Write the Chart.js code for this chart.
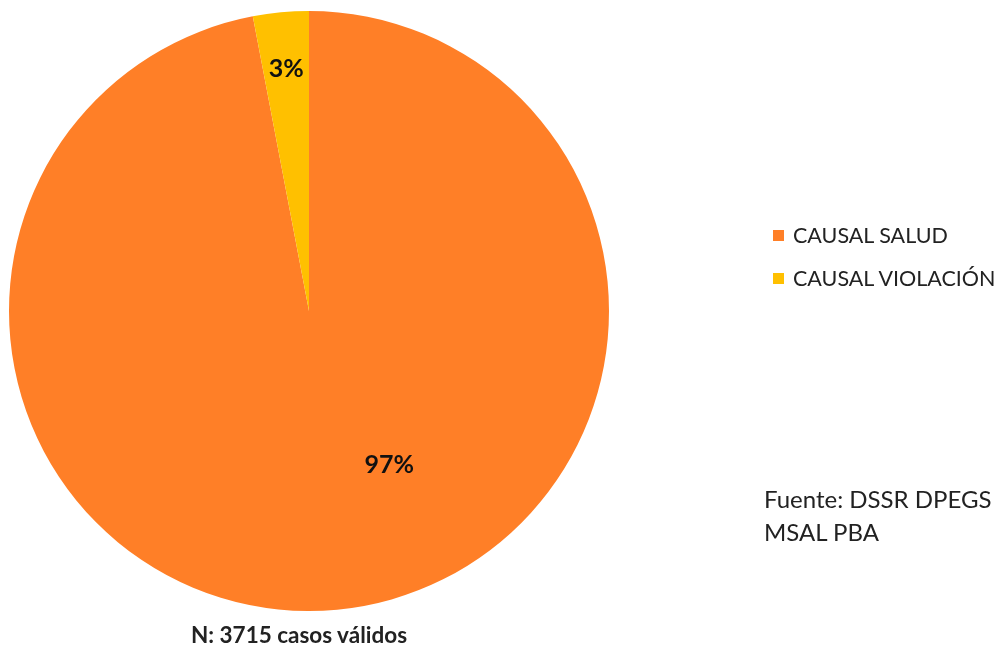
<!DOCTYPE html>
<html>
<head>
<meta charset="utf-8">
<script src="https://cdn.jsdelivr.net/npm/chart.js@4.4.0/dist/chart.umd.min.js"></script>
<style>
  html, body { margin: 0; padding: 0; background: #fff; }
  #wrap { position: relative; width: 998px; height: 646px; font-family: Lato, "Open Sans", sans-serif; color: #222; }
  #pie { position: absolute; left: 0; top: 0; }
  #legend { position: absolute; left: 773px; top: 222px; font-size: 21.5px; }
  #legend .item { display: flex; align-items: center; height: 26px; margin-bottom: 17px; }
  #legend .box { width: 11px; height: 11px; margin-right: 9px; }
  #source { position: absolute; left: 764px; top: 482px; font-size: 24px; line-height: 33px; }
  #nota { position: absolute; left: 0; width: 598px; top: 621px; text-align: center; font-weight: bold; font-size: 22.5px; }
</style>
</head>
<body>
<div id="wrap">
  <canvas id="pie" width="998" height="646"></canvas>
  <div id="legend"></div>
  <div id="source">Fuente: DSSR DPEGS<br>MSAL PBA</div>
  <div id="nota">N: 3715 casos válidos</div>
</div>
<script>
// datos
const categorias = ["CAUSAL SALUD", "CAUSAL VIOLACIÓN"];
const porcentajes = [97, 3];
const colores = ["#FF7F27", "#FFC000"];

// etiquetas dentro de las porciones (posicion relativa al radio)
const posEtiquetas = [
  { ratio: 0.58, angulo: 62.5 }, // excel "best fit" para la porcion grande
  { ratio: 0.81, angulo: null }  // null = angulo medio de la porcion
];

const etiquetasPlugin = {
  id: "etiquetas",
  afterDatasetsDraw(chart) {
    const ctx = chart.ctx;
    const meta = chart.getDatasetMeta(0);
    ctx.save();
    ctx.font = "bold 25px Lato, 'Open Sans', sans-serif";
    ctx.fillStyle = "#111";
    ctx.textAlign = "center";
    ctx.textBaseline = "middle";
    meta.data.forEach((arc, i) => {
      const p = arc.getProps(["x", "y", "startAngle", "endAngle", "outerRadius"], true);
      const pos = posEtiquetas[i];
      const ang = pos.angulo === null ? (p.startAngle + p.endAngle) / 2 : pos.angulo * Math.PI / 180;
      const r = p.outerRadius * pos.ratio;
      ctx.fillText(porcentajes[i] + "%", p.x + Math.cos(ang) * r, p.y + Math.sin(ang) * r);
    });
    ctx.restore();
  }
};

new Chart(document.getElementById("pie"), {
  type: "pie",
  data: {
    labels: categorias,
    datasets: [{
      data: porcentajes,
      backgroundColor: colores,
      borderWidth: 0
    }]
  },
  options: {
    responsive: false,
    animation: false,
    layout: { padding: { left: 9, top: 11, right: 389, bottom: 35 } },
    plugins: {
      legend: { display: false },
      tooltip: { enabled: false }
    }
  },
  plugins: [etiquetasPlugin]
});

// leyenda
const leyenda = document.getElementById("legend");
categorias.forEach((c, i) => {
  const item = document.createElement("div");
  item.className = "item";
  item.innerHTML = '<span class="box" style="background:' + colores[i] + '"></span><span>' + c + "</span>";
  leyenda.appendChild(item);
});
</script>
</body>
</html>
